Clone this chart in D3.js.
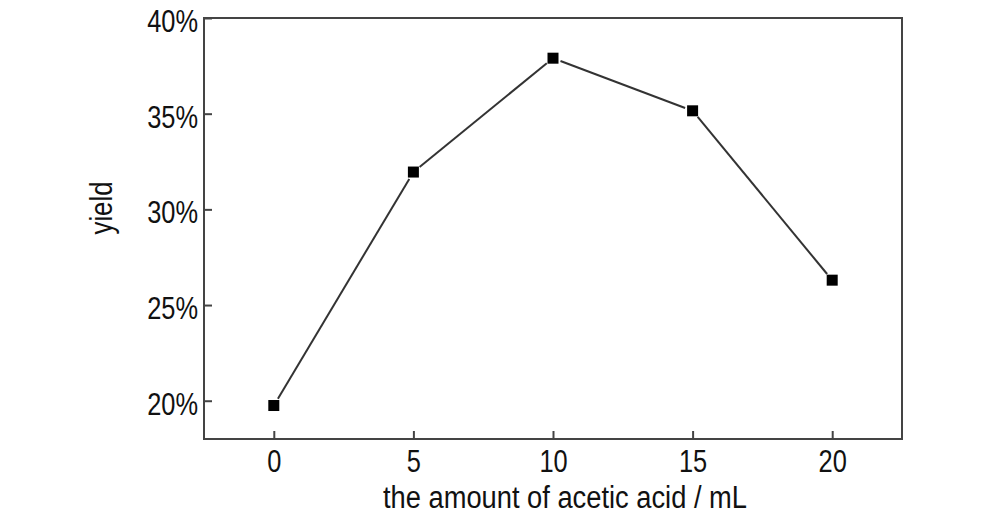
<!DOCTYPE html>
<html>
<head>
<meta charset="utf-8">
<script src="https://cdn.jsdelivr.net/npm/d3@7"></script>
<style>
  html, body { margin: 0; padding: 0; background: #fff; }
  text { font-family: "Liberation Sans", Arial, sans-serif; fill: #111; }
</style>
</head>
<body>
<svg id="chart" width="994" height="520"></svg>
<script>
const xValues = [0, 5, 10, 15, 20];
const yieldValues = [19.75, 31.95, 37.9, 35.15, 26.3];
const xTicks = [0, 5, 10, 15, 20];
const yTicks = [20, 25, 30, 35, 40];
const xTitle = "the amount of acetic acid / mL";
const yTitle = "yield";

(function () {
const svg = d3.select("#chart");
const pL = 204, pR = 902, pT = 18, pB = 439;

const x = d3.scaleLinear().domain([-2.5, 22.5]).range([pL, pR]);
const y = d3.scaleLinear().domain([18, 40]).range([pB, pT]);

const frameColor = "#444";
const fontFam = '"Liberation Sans", Arial, sans-serif';
const fs = 31, sx = 0.82;

// frame
svg.append("rect")
  .attr("x", pL).attr("y", pT)
  .attr("width", pR - pL).attr("height", pB - pT)
  .attr("fill", "none").attr("stroke", frameColor).attr("stroke-width", 2);

// x axis (ticks inward)
const xAxis = d3.axisBottom(x).tickValues(xTicks).tickSizeInner(-8).tickSizeOuter(0).tickPadding(11)
  .tickFormat(d3.format("d"));
const gx = svg.append("g").attr("transform", `translate(0,${pB})`).call(xAxis);
gx.select(".domain").remove();
gx.selectAll(".tick line").attr("stroke", frameColor).attr("stroke-width", 2);
gx.selectAll(".tick text").attr("font-size", fs).attr("fill", "#111").attr("font-family", fontFam)
  .attr("transform", `scale(${sx},1)`);

// y axis (ticks inward)
const yAxis = d3.axisLeft(y).tickValues(yTicks).tickSizeInner(-8).tickSizeOuter(0).tickPadding(0)
  .tickFormat(d => d + "%");
const gy = svg.append("g").attr("transform", `translate(${pL},0)`).call(yAxis);
gy.select(".domain").remove();
gy.selectAll(".tick line").attr("stroke", frameColor).attr("stroke-width", 2);
gy.selectAll(".tick text").attr("font-size", fs).attr("fill", "#111").attr("font-family", fontFam)
  .attr("x", 0).attr("y", 3.5)
  .attr("transform", `translate(-6,0) scale(${sx},1)`);

// titles
svg.append("text")
  .attr("x", 565).attr("y", 508)
  .attr("text-anchor", "middle").attr("font-size", fs)
  .attr("textLength", 364).attr("lengthAdjust", "spacingAndGlyphs")
  .text(xTitle);

svg.append("text")
  .attr("transform", `translate(112,208) rotate(-90)`)
  .attr("text-anchor", "middle").attr("font-size", fs)
  .attr("textLength", 53).attr("lengthAdjust", "spacingAndGlyphs")
  .text(yTitle);

// line with gaps near markers
const pts = xValues.map((v, i) => [x(v), y(yieldValues[i])]);
const gap = 8;
for (let i = 0; i < pts.length - 1; i++) {
  const [x1, y1] = pts[i], [x2, y2] = pts[i + 1];
  const dx = x2 - x1, dy = y2 - y1, L = Math.hypot(dx, dy);
  const ux = dx / L, uy = dy / L;
  svg.append("line")
    .attr("x1", x1 + ux * gap).attr("y1", y1 + uy * gap)
    .attr("x2", x2 - ux * gap).attr("y2", y2 - uy * gap)
    .attr("stroke", "#333").attr("stroke-width", 2);
}

// markers
const ms = 11;
svg.selectAll("rect.marker").data(xValues).enter().append("rect")
  .attr("class", "marker")
  .attr("x", (d) => x(d) - ms / 2)
  .attr("y", (d, i) => y(yieldValues[i]) - ms / 2)
  .attr("width", ms).attr("height", ms)
  .attr("fill", "#000");
})();
</script>
</body>
</html>
